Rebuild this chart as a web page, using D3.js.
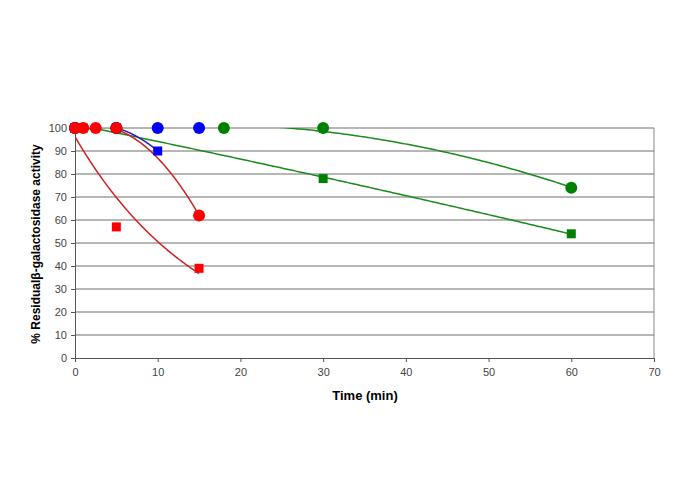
<!DOCTYPE html>
<meta charset="utf-8">
<script src="https://d3js.org/d3.v7.min.js"></script>
<style>
  body { margin: 0; background: #fff; }
  text { font-family: Arial, "Liberation Sans", sans-serif; }
</style>
<div id="my_dataviz"></div>
<script>

// data
var redCircleT = [0, 1, 2.5, 5, 15],  redCircleV = [100, 100, 100, 100, 62];
var redSquareT = [0, 1, 5, 15],       redSquareV = [100, 100, 57, 39];
var blueCircleT = [0, 5, 10, 15],     blueCircleV = [100, 100, 100, 100];
var blueSquareT = [0, 5, 10],         blueSquareV = [100, 100, 90];
var greenCircleT = [0, 5, 18, 30, 60], greenCircleV = [100, 100, 100, 100, 74];
var greenSquareT = [0, 5, 30, 60],    greenSquareV = [100, 100, 78, 54];

var xTicks = [0, 10, 20, 30, 40, 50, 60, 70];
var yTicks = [0, 10, 20, 30, 40, 50, 60, 70, 80, 90, 100];

var series = [
  {t: greenCircleT, v: greenCircleV, shape: "circle", color: "#008000", line: "#1c8a1c", fit: "poly"},
  {t: greenSquareT, v: greenSquareV, shape: "square", color: "#008000", line: "#1c8a1c", fit: "poly"},
  {t: blueCircleT,  v: blueCircleV,  shape: "circle", color: "#0000ff", line: "#2020c0", fit: "none"},
  {t: blueSquareT,  v: blueSquareV,  shape: "square", color: "#0000ff", line: "#2020c0", fit: "poly"},
  {t: redCircleT,   v: redCircleV,   shape: "circle", color: "#ff0000", line: "#d02020", fit: "poly"},
  {t: redSquareT,   v: redSquareV,   shape: "square", color: "#ff0000", line: "#d02020", fit: "exp"}
];

var W = 685, H = 484;
var plotL = 75, plotR = 654, plotT = 128, plotB = 358;

var svg = d3.select("#my_dataviz").append("svg")
  .attr("width", W).attr("height", H);

var x = d3.scaleLinear().domain([0, 70]).range([plotL, plotR]);
var y = d3.scaleLinear().domain([0, 100]).range([plotB, plotT]);

// gridlines
svg.append("g").selectAll("line")
  .data(yTicks.filter(function(d) { return d > 0; }))
  .enter().append("line")
    .attr("x1", plotL).attr("x2", plotR)
    .attr("y1", function(d) { return y(d); })
    .attr("y2", function(d) { return y(d); })
    .attr("stroke", "#6f6f6f").attr("stroke-width", 1);

// right border
svg.append("line")
  .attr("x1", plotR).attr("x2", plotR).attr("y1", plotT).attr("y2", plotB)
  .attr("stroke", "#8a8a8a");

// axes
var xAxis = svg.append("g")
  .attr("transform", "translate(0," + plotB + ")")
  .call(d3.axisBottom(x).tickValues(xTicks).tickSizeInner(4).tickSizeOuter(0).tickPadding(6));
var yAxis = svg.append("g")
  .attr("transform", "translate(" + plotL + ",0)")
  .call(d3.axisLeft(y).tickValues(yTicks).tickSizeInner(4).tickSizeOuter(0).tickPadding(4));
[xAxis, yAxis].forEach(function(a) {
  a.select(".domain").attr("stroke", "#555");
  a.selectAll(".tick line").attr("stroke", "#555");
  a.selectAll(".tick text").attr("fill", "#444").style("font-size", "11px")
    .style("font-family", "Arial, 'Liberation Sans', sans-serif");
});

// least-squares fits for the trend lines
function polyFit(t, v) {
  var S = [0, 0, 0, 0, 0], R = [0, 0, 0];
  t.forEach(function(xi, i) {
    for (var k = 0; k < 5; k++) S[k] += Math.pow(xi, k);
    for (var k = 0; k < 3; k++) R[k] += Math.pow(xi, k) * v[i];
  });
  var M = [[S[0], S[1], S[2], R[0]], [S[1], S[2], S[3], R[1]], [S[2], S[3], S[4], R[2]]];
  for (var i = 0; i < 3; i++) {
    for (var j = i + 1; j < 3; j++) {
      var f = M[j][i] / M[i][i];
      for (var k = i; k < 4; k++) M[j][k] -= f * M[i][k];
    }
  }
  var c = [0, 0, 0];
  for (var i = 2; i >= 0; i--) {
    var s = M[i][3];
    for (var k = i + 1; k < 3; k++) s -= M[i][k] * c[k];
    c[i] = s / M[i][i];
  }
  return function(xx) { return c[0] + c[1] * xx + c[2] * xx * xx; };
}
function expFit(t, v) {
  var lv = v.map(Math.log);
  var mx = d3.mean(t), my = d3.mean(lv), sxx = 0, sxy = 0;
  t.forEach(function(xi, i) { sxx += (xi - mx) * (xi - mx); sxy += (xi - mx) * (lv[i] - my); });
  var b = sxy / sxx, a = my - b * mx;
  return function(xx) { return Math.exp(a + b * xx); };
}

svg.append("clipPath").attr("id", "plotclip")
  .append("rect").attr("x", plotL).attr("y", plotT).attr("width", plotR - plotL).attr("height", plotB - plotT);

var line = d3.line().x(function(d) { return x(d[0]); }).y(function(d) { return y(d[1]); });

series.forEach(function(s) {
  if (s.fit == "none") return;
  var f = s.fit == "exp" ? expFit(s.t, s.v) : polyFit(s.t, s.v);
  var lo = d3.min(s.t), hi = d3.max(s.t);
  var pts = d3.range(0, 201).map(function(i) { var xx = lo + (hi - lo) * i / 200; return [xx, f(xx)]; });
  svg.append("path")
    .attr("d", line(pts))
    .attr("clip-path", "url(#plotclip)")
    .attr("fill", "none")
    .attr("stroke", s.line)
    .attr("stroke-width", 1.5);
});

// markers
series.forEach(function(s) {
  var pts = s.t.map(function(tt, i) { return [tt, s.v[i]]; });
  if (s.shape == "circle") {
    svg.append("g").selectAll("circle").data(pts).enter().append("circle")
      .attr("cx", function(d) { return x(d[0]); })
      .attr("cy", function(d) { return y(d[1]); })
      .attr("r", 6)
      .attr("fill", s.color);
  } else {
    svg.append("g").selectAll("rect").data(pts).enter().append("rect")
      .attr("x", function(d) { return x(d[0]) - 4.5; })
      .attr("y", function(d) { return y(d[1]) - 4.5; })
      .attr("width", 9).attr("height", 9)
      .attr("fill", s.color);
  }
});

// axis titles
svg.append("text")
  .attr("x", 365).attr("y", 400)
  .attr("text-anchor", "middle")
  .style("font-size", "13px").style("font-weight", "bold")
  .text("Time (min)");

svg.append("text")
  .attr("transform", "translate(40," + 244 + ") rotate(-90)")
  .attr("text-anchor", "middle")
  .style("font-size", "12px").style("font-weight", "bold")
  .text("% Residualβ-galactosidase activity");

</script>
